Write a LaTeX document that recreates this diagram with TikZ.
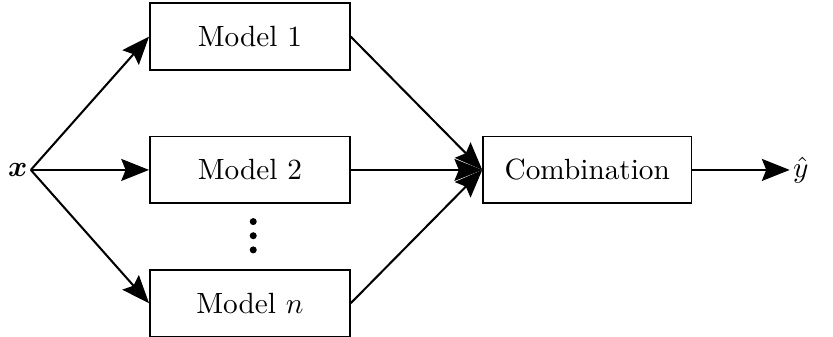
\documentclass[tikz,border=0pt]{standalone}
\usepackage{amsmath,bm}
\usetikzlibrary{arrows.meta}
\begin{document}
\begin{tikzpicture}[
  modelbox/.style={draw, line width=0.6pt, minimum width=2.4cm, minimum height=0.8cm},
  combobox/.style={draw, line width=0.6pt, minimum width=2.5cm, minimum height=0.8cm},
  flow/.style={line width=0.7pt, -{Stealth[length=9.5pt,width=7.5pt,inset=1.5pt]}},
  dotmark/.style={fill=black}
]
\useasboundingbox (0,-2.005) rectangle (10,2.04);

\node[inner sep=1pt, anchor=east] (x) at (0.37,0) {$\bm{x}$};

\node[modelbox] (m1) at (3,1.6) {Model 1};
\node[modelbox] (m2) at (3,0) {Model 2};
\node[modelbox] (mn) at (3,-1.6) {Model $n$};

% vertical ellipsis between the second and the last model
\fill[dotmark] (3.04,-0.62) circle (1.2pt);
\fill[dotmark] (3.04,-0.79) circle (1.2pt);
\fill[dotmark] (3.04,-0.96) circle (1.2pt);

\node[combobox] (comb) at (7.05,0) {Combination};
\node[inner sep=1pt, anchor=west] (y) at (9.48,0) {$\hat{y}$};

\draw[flow] (x.east) -- (m1.west);
\draw[flow] (x.east) -- (m2.west);
\draw[flow] (x.east) -- (mn.west);

\draw[flow] (m1.east) -- (comb.west);
\draw[flow] (m2.east) -- (comb.west);
\draw[flow] (mn.east) -- (comb.west);

\draw[flow] (comb.east) -- (y.west);
\end{tikzpicture}
\end{document}
